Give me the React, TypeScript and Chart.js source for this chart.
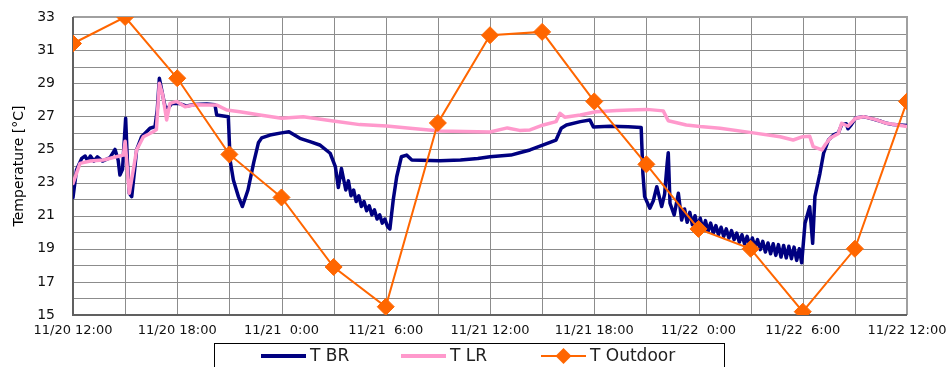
import React, { useEffect, useRef } from "react";
import { Chart, registerables } from "chart.js";

Chart.register(...registerables);

// x values are hours since 11/20 12:00
const xTickLabels = [
  "11/20 12:00", "11/20 18:00", "11/21  0:00", "11/21  6:00", "11/21 12:00",
  "11/21 18:00", "11/22  0:00", "11/22  6:00", "11/22 12:00",
];
const yTickValues = [15, 17, 19, 21, 23, 25, 27, 29, 31, 33];
const gridHours = [0, 3, 6, 9, 12, 15, 18, 21, 24, 27, 30, 33, 36, 39, 42, 45, 48];
const gridTemps = [15, 16, 17, 18, 19, 20, 21, 22, 23, 24, 25, 26, 27, 28, 29, 30, 31, 32, 33];

const seriesNames = ["T BR", "T LR", "T Outdoor"];

const outdoorHours = [0, 3, 6, 9, 12, 15, 18, 21, 24, 27, 30, 33, 36, 39, 42, 45, 48];
const outdoorTemps = [31.4, 33.0, 29.3, 24.7, 22.1, 17.9, 15.5, 26.6, 31.9, 32.1, 27.9, 24.1, 20.2, 19.0, 15.2, 19.0, 27.9];

const brSeries: [number, number][] = [
  [0, 22.1], [0.2, 23.76], [0.5, 24.46], [0.7, 24.6], [0.85, 24.3], [1.0, 24.6], [1.2, 24.3],
  [1.4, 24.55], [1.7, 24.3], [2.13, 24.5], [2.42, 25.0], [2.6, 24.35], [2.7, 23.45], [2.85, 23.8],
  [3.03, 26.88], [3.13, 24.3], [3.24, 22.35], [3.38, 22.15], [3.55, 23.8], [3.66, 24.97],
  [3.95, 25.77], [4.43, 26.28], [4.72, 26.38], [4.85, 27.38], [4.97, 29.3], [5.16, 28.3],
  [5.3, 27.58], [5.49, 27.5], [5.68, 27.78], [6.1, 27.78], [6.54, 27.62], [7.0, 27.72],
  [7.7, 27.74], [8.17, 27.7], [8.27, 27.08], [8.94, 26.98], [9.04, 24.36], [9.23, 23.15],
  [9.52, 22.15], [9.75, 21.55], [10.07, 22.55], [10.4, 24.2], [10.67, 25.4], [10.86, 25.7],
  [11.34, 25.87], [12.0, 26.0], [12.43, 26.07], [13.06, 25.67], [13.64, 25.47], [14.2, 25.27],
  [14.8, 24.77], [15.1, 23.96], [15.27, 22.7], [15.45, 23.85], [15.7, 22.55], [15.85, 23.1],
  [16.0, 22.2], [16.15, 22.55], [16.3, 21.85], [16.45, 22.2], [16.6, 21.55], [16.75, 21.85],
  [16.9, 21.3], [17.05, 21.6], [17.2, 21.05], [17.35, 21.35], [17.5, 20.8], [17.65, 21.05],
  [17.8, 20.55], [17.95, 20.8], [18.1, 20.35], [18.24, 20.2], [18.43, 21.95], [18.63, 23.35],
  [18.9, 24.56], [19.2, 24.66], [19.5, 24.36], [21.1, 24.32], [22.3, 24.36], [23.3, 24.45],
  [24.0, 24.56], [25.2, 24.66], [25.7, 24.8], [26.3, 24.97], [27.07, 25.27], [27.8, 25.57],
  [28.1, 26.28], [28.4, 26.48], [29.2, 26.68], [29.75, 26.78], [29.95, 26.35], [30.9, 26.4],
  [31.96, 26.37], [32.7, 26.33], [32.8, 23.56], [32.9, 22.15], [33.2, 21.45], [33.4, 21.9],
  [33.6, 22.75], [33.88, 21.55], [34.05, 22.3], [34.2, 24.2], [34.26, 24.8], [34.36, 21.75],
  [34.6, 21.04], [34.84, 22.35], [35.03, 20.74], [35.2, 21.4], [35.35, 20.6], [35.5, 21.2],
  [35.65, 20.45], [35.8, 21.0], [35.95, 20.3], [36.1, 20.85], [36.25, 20.15], [36.4, 20.7],
  [36.55, 20.05], [36.7, 20.55], [36.85, 19.95], [37.0, 20.4], [37.15, 19.85], [37.3, 20.3],
  [37.45, 19.75], [37.6, 20.2], [37.75, 19.65], [37.9, 20.1], [38.05, 19.55], [38.2, 19.95],
  [38.35, 19.4], [38.5, 19.85], [38.65, 19.3], [38.8, 19.75], [38.95, 19.2], [39.1, 19.65],
  [39.25, 19.1], [39.4, 19.55], [39.55, 18.95], [39.7, 19.45], [39.85, 18.8], [40.0, 19.35],
  [40.15, 18.7], [40.3, 19.3], [40.45, 18.6], [40.6, 19.25], [40.75, 18.5], [40.9, 19.2],
  [41.05, 18.45], [41.2, 19.15], [41.35, 18.4], [41.5, 19.1], [41.65, 18.3], [41.8, 19.0],
  [41.94, 18.15], [42.13, 20.54], [42.4, 21.54], [42.57, 19.33], [42.7, 22.15], [42.99, 23.56],
  [43.2, 24.77], [43.48, 25.57], [43.8, 25.9], [44.05, 26.0], [44.24, 26.5], [44.5, 26.55],
  [44.6, 26.25], [44.8, 26.5], [45.04, 26.9], [45.5, 26.98], [46.0, 26.85], [46.5, 26.7],
  [46.83, 26.58], [47.2, 26.5], [48, 26.45],
];

const lrSeries: [number, number][] = [
  [0, 22.95], [0.4, 24.16], [1.0, 24.3], [1.75, 24.36], [2.5, 24.56], [2.9, 24.66], [3.0, 25.5],
  [3.24, 22.35], [3.47, 23.76], [3.66, 24.97], [4.05, 25.77], [4.62, 26.07], [4.8, 26.2],
  [4.97, 29.0], [5.16, 28.3], [5.39, 26.78], [5.58, 27.78], [5.97, 27.9], [6.45, 27.58],
  [7.0, 27.7], [7.9, 27.68], [8.28, 27.68], [8.85, 27.38], [9.6, 27.28], [10.76, 27.08],
  [12.0, 26.88], [13.25, 26.98], [14.98, 26.72], [16.5, 26.5], [18.05, 26.42], [19.4, 26.28],
  [21.1, 26.12], [24.0, 26.05], [25.0, 26.3], [25.7, 26.15], [26.3, 26.18], [27.07, 26.48],
  [27.8, 26.68], [28.03, 27.18], [28.3, 26.95], [29.2, 27.08], [30.1, 27.28], [31.3, 27.35],
  [32.06, 27.38], [33.02, 27.42], [33.97, 27.33], [34.26, 26.73], [35.3, 26.48], [36.09, 26.38],
  [37.24, 26.28], [39.15, 26.0], [40.7, 25.77], [41.45, 25.57], [42.0, 25.77], [42.4, 25.8],
  [42.6, 25.17], [43.1, 24.97], [43.3, 25.3], [43.57, 25.67], [44.05, 25.97], [44.24, 26.58],
  [44.6, 26.4], [45.04, 26.88], [45.5, 26.98], [46.2, 26.8], [46.83, 26.58], [48, 26.38],
];

const colors = ["#000080", "#ff99cc", "#ff6600"];

const framePlugin = {
  id: "frame",
  beforeDatasetsDraw(chart: any) {
    const { ctx, chartArea: a, scales } = chart;
    ctx.save();
    ctx.lineWidth = 1;
    ctx.strokeStyle = "#8c8c8c";
    ctx.beginPath();
    for (const h of gridHours) {
      const x = Math.round(scales.x.getPixelForValue(h)) + 0.5;
      ctx.moveTo(x, a.top);
      ctx.lineTo(x, a.bottom);
    }
    for (const v of gridTemps) {
      const y = Math.round(scales.y.getPixelForValue(v)) + 0.5;
      ctx.moveTo(a.left, y);
      ctx.lineTo(a.right, y);
    }
    ctx.stroke();
    ctx.lineWidth = 2;
    ctx.strokeStyle = "#a0a0a0";
    ctx.beginPath();
    ctx.moveTo(a.left, a.top);
    ctx.lineTo(a.right, a.top);
    ctx.lineTo(a.right, a.bottom);
    ctx.stroke();
    ctx.strokeStyle = "#606060";
    ctx.beginPath();
    ctx.moveTo(a.left, a.top);
    ctx.lineTo(a.left, a.bottom);
    ctx.lineTo(a.right, a.bottom);
    ctx.stroke();
    ctx.restore();
  },
  afterDraw(chart: any) {
    const { ctx } = chart;
    ctx.save();
    const boxL = 214, boxR = 724, boxT = 343, cy = 356;
    ctx.strokeStyle = "#000";
    ctx.lineWidth = 1;
    ctx.strokeRect(boxL + 0.5, boxT + 0.5, boxR - boxL, 40);
    const starts = [261, 401, 541];
    ctx.font = "17px 'DejaVu Sans'";
    ctx.textBaseline = "middle";
    for (let i = 0; i < 3; i++) {
      const x0 = starts[i];
      ctx.strokeStyle = colors[i];
      ctx.lineWidth = i === 2 ? 2 : 4;
      ctx.beginPath();
      ctx.moveTo(x0, cy);
      ctx.lineTo(x0 + 45, cy);
      ctx.stroke();
      if (i === 2) {
        ctx.fillStyle = colors[2];
        ctx.beginPath();
        const mx = x0 + 22.5, r = 8;
        ctx.moveTo(mx, cy - r);
        ctx.lineTo(mx + r, cy);
        ctx.lineTo(mx, cy + r);
        ctx.lineTo(mx - r, cy);
        ctx.closePath();
        ctx.fill();
      }
      ctx.fillStyle = "#222";
      ctx.fillText(seriesNames[i], x0 + 49, cy + 1);
    }
    ctx.restore();
  },
};

export default function App() {
  const ref = useRef<HTMLCanvasElement | null>(null);
  useEffect(() => {
    if (!ref.current) return;
    const chart = new Chart(ref.current, {
      type: "line",
      data: {
        datasets: [
          {
            label: seriesNames[2],
            data: outdoorHours.map((h, i) => ({ x: h, y: outdoorTemps[i] })),
            borderColor: colors[2],
            backgroundColor: colors[2],
            borderWidth: 2,
            pointStyle: "rectRot",
            pointRadius: 8.5,
            pointBorderWidth: 1,
            pointBackgroundColor: colors[2],
            pointBorderColor: colors[2],
            fill: false,
            order: 0,
          },
          {
            label: seriesNames[1],
            data: lrSeries.map(([x, y]) => ({ x, y })),
            borderColor: colors[1],
            backgroundColor: "transparent",
            borderWidth: 3.5,
            borderJoinStyle: "round",
            borderCapStyle: "round",
            pointRadius: 0,
            fill: false,
            order: 1,
          },
          {
            label: seriesNames[0],
            data: brSeries.map(([x, y]) => ({ x, y })),
            borderColor: colors[0],
            backgroundColor: "transparent",
            borderWidth: 3.5,
            borderJoinStyle: "round",
            borderCapStyle: "round",
            pointRadius: 0,
            fill: false,
            order: 2,
          },
        ],
      },
      options: {
        animation: false,
        responsive: true,
        maintainAspectRatio: false,
        layout: { padding: { left: 0, right: 43, top: 17, bottom: 0 } },
        plugins: { legend: { display: false }, tooltip: { enabled: false } },
        scales: {
          x: {
            type: "linear",
            min: 0,
            max: 48,
            afterFit: (s: any) => { s.height = 52; },
            ticks: {
              stepSize: 3,
              autoSkip: false,
              maxRotation: 0,
              padding: 3,
              color: "#111",
              font: { family: "'DejaVu Sans'", size: 13 },
              callback: (v: any) => (Number(v) % 6 === 0 ? xTickLabels[Number(v) / 6] : ""),
            },
            grid: { display: false, drawTicks: true, tickLength: 5 },
            border: { display: false },
          },
          y: {
            min: 15,
            max: 33,
            afterFit: (s: any) => { s.width = 73; },
            ticks: {
              stepSize: 1,
              autoSkip: false,
              padding: 3,
              color: "#111",
              font: { family: "'DejaVu Sans'", size: 14 },
              callback: (v: any) => (yTickValues.includes(Number(v)) ? String(v) : ""),
            },
            grid: { display: false, drawTicks: true, tickLength: 15 },
            border: { display: false },
            title: {
              display: true,
              text: "Temperature [°C]",
              color: "#000",
              font: { family: "'DejaVu Sans'", size: 14 },
              padding: { top: 11, bottom: 0 },
            },
          },
        },
      },
      plugins: [framePlugin],
    });
    return () => chart.destroy();
  }, []);
  return (
    <div style={{ position: "absolute", left: 0, top: 0, width: 950, height: 367, background: "#fff" }}>
      <canvas ref={ref} />
    </div>
  );
}
